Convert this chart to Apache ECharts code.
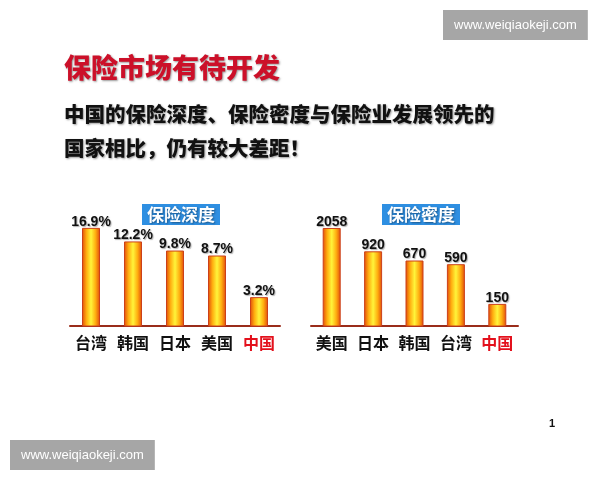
<!DOCTYPE html>
<html><head><meta charset="utf-8">
<script src="https://cdn.jsdelivr.net/npm/echarts@6/dist/echarts.min.js"></script>
<style>html,body{margin:0;padding:0;background:#fff}#c{width:600px;height:480px}</style>
</head><body><div id="c"></div>
<script>
// Data
var depthCategories = ['台湾', '韩国', '日本', '美国', '中国'];
var depthValues = [16.9, 12.2, 9.8, 8.7, 3.2];
var densityCategories = ['美国', '日本', '韩国', '台湾', '中国'];
var densityValues = [2058, 920, 670, 590, 150];
var mainTitle = '保险市场有待开发';
var subTitle = '中国的保险深度、保险密度与保险业发展领先的\n国家相比，仍有较大差距！';
var depthTitle = '保险深度';
var densityTitle = '保险密度';
var watermark = 'www.weiqiaokeji.com';

var cjk = '"Noto Sans CJK SC", "Noto Sans", sans-serif';
var num = '"Liberation Sans", Arial, sans-serif';

var barGradient = new echarts.graphic.LinearGradient(0, 0, 1, 0, [
  {offset: 0, color: '#e04a0a'},
  {offset: 0.25, color: '#ffae10'},
  {offset: 0.5, color: '#fff43a'},
  {offset: 0.75, color: '#ffae10'},
  {offset: 1, color: '#e04a0a'}
]);

function labelColor(v) { return v === '中国' ? '#e3101c' : '#111'; }

var chart = echarts.init(document.getElementById('c'), null, {renderer: 'canvas'});
var shadow = {textShadowColor: 'rgba(0,0,0,0.4)', textShadowBlur: 2, textShadowOffsetX: 1, textShadowOffsetY: 1};
var labelStyle = {fontFamily: num, fontSize: 14, fontWeight: 'bold', color: '#111',
  textShadowColor: 'rgba(0,0,0,0.3)', textShadowBlur: 1, textShadowOffsetX: 1, textShadowOffsetY: 1};

chart.setOption({
  backgroundColor: '#ffffff',
  animation: false,
  title: [
    {text: mainTitle, left: 64, top: 54, padding: 0,
     textStyle: Object.assign({fontFamily: cjk, fontSize: 27, fontWeight: 900, color: '#cc1029'}, shadow)},
    {text: subTitle, left: 64, top: 97, padding: 0,
     textStyle: Object.assign({fontFamily: cjk, fontSize: 20.5, fontWeight: 900, color: '#111', lineHeight: 34}, shadow)},
    {text: depthTitle, left: 142, top: 204, padding: [1, 5, 1, 5], backgroundColor: '#2e8fe2',
     textStyle: Object.assign({fontFamily: cjk, fontSize: 17, fontWeight: 'bold', color: '#fff', lineHeight: 19}, shadow)},
    {text: densityTitle, left: 382, top: 204, padding: [1, 5, 1, 5], backgroundColor: '#2e8fe2',
     textStyle: Object.assign({fontFamily: cjk, fontSize: 17, fontWeight: 'bold', color: '#fff', lineHeight: 19}, shadow)},
    {text: watermark, left: 443, top: 10, padding: [8, 11, 8, 11], backgroundColor: '#a6a6a6',
     textStyle: {fontFamily: num, fontSize: 13, fontWeight: 'normal', color: '#fff', lineHeight: 14}},
    {text: watermark, left: 10, top: 440, padding: [8, 11, 8, 11], backgroundColor: '#a6a6a6',
     textStyle: {fontFamily: num, fontSize: 13, fontWeight: 'normal', color: '#fff', lineHeight: 14}},
    {text: '1', left: 549, top: 418, padding: 0,
     textStyle: {fontFamily: num, fontSize: 11, fontWeight: 'bold', color: '#111'}}
  ],
  grid: [
    {left: 70, width: 210, top: 200, bottom: 154},
    {left: 311, width: 207, top: 200, bottom: 154}
  ],
  xAxis: [0, 1].map(function (i) {
    return {
      type: 'category', gridIndex: i,
      data: i === 0 ? depthCategories : densityCategories,
      axisLine: {show: true, lineStyle: {color: '#9a2c1a', width: 2}},
      axisTick: {show: false},
      axisLabel: {interval: 0, margin: 9, fontFamily: cjk, fontSize: 16, fontWeight: 'bold', color: labelColor}
    };
  }),
  yAxis: [
    {type: 'log', gridIndex: 0, min: 1.6, max: 33, show: false},
    {type: 'log', gridIndex: 1, min: 70, max: 5400, show: false}
  ],
  series: [
    {type: 'bar', xAxisIndex: 0, yAxisIndex: 0, data: depthValues, barWidth: 18, clip: true,
     itemStyle: {color: barGradient, borderColor: '#cc401a', borderWidth: 1},
     label: Object.assign({show: true, position: 'top', distance: -1, formatter: function (p) { return p.value + '%'; }}, labelStyle)},
    {type: 'bar', xAxisIndex: 1, yAxisIndex: 1, data: densityValues, barWidth: 18, clip: true,
     itemStyle: {color: barGradient, borderColor: '#cc401a', borderWidth: 1},
     label: Object.assign({show: true, position: 'top', distance: -1}, labelStyle)}
  ]
});
</script>
</body></html>
